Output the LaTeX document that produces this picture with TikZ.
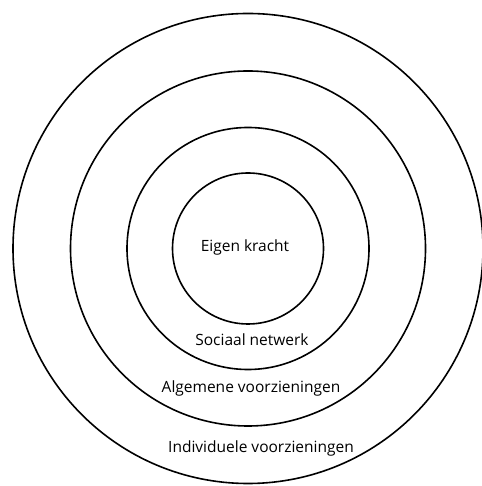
\documentclass[tikz,border=0pt]{standalone}
\usepackage{fontspec}
\setmainfont{Open Sans}
\usepackage{tikz}

\begin{document}
\begin{tikzpicture}[
  x=1pt, y=1pt,
  ring/.style ={draw,circle,line width=1.6pt,inner sep=0},
  lab/.style  ={font=\fontsize{15.5}{18}\selectfont,inner sep=1pt,anchor=center},
]
\useasboundingbox (0,0) rectangle (481,486);

% --------------------------------------------------------------- the four rings
\coordinate (mid) at (248,237.5);
\foreach \n/\r in {eigen/75.5, sociaal/121, algemeen/177.5, individueel/235} {
  \node[ring,minimum size=2*\r] (\n) at (mid) {};
}

% ------------------------------------------------------------------- the labels
\node[lab] (teigen)    at (245,239)   {Eigen kracht};
\node[lab] (tsociaal)  at (252,146)   {Sociaal netwerk};
\node[lab] (talgemeen) at (251,98)    {Algemene voorzieningen};
\node[lab] (tindiv)    at (261,38)    {Individuele voorzieningen};

\end{tikzpicture}
\end{document}
